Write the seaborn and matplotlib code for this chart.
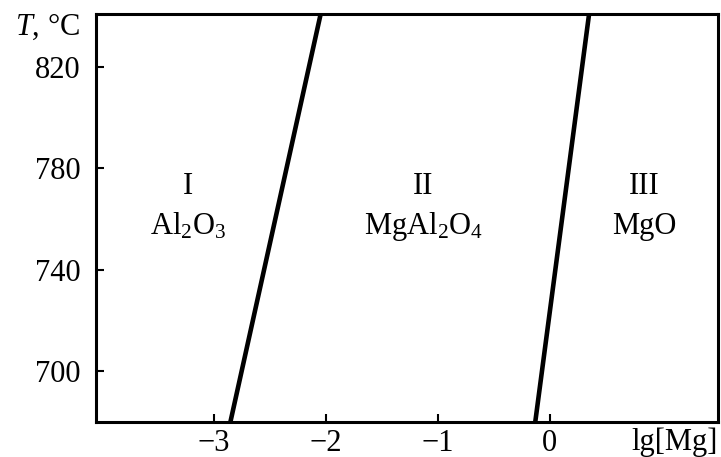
"""Phase diagram of Al2O3 / MgAl2O4 / MgO stability fields."""
import matplotlib
matplotlib.use("Agg")
import matplotlib.pyplot as plt
import seaborn as sns
import pandas as pd

# boundary lines: lg[Mg] at the bottom and top of the temperature range
boundary_T = [680, 841]
al2o3_spinel_lg = [-2.85, -2.045]
spinel_mgo_lg = [-0.13, 0.35]

# field labels
field_names = ["I", "II", "III"]
field_phases = ["Al$_2$O$_3$", "MgAl$_2$O$_4$", "MgO"]
field_lg = [-3.23, -1.13, 0.84]
name_T = 773
phase_T = 757

x_ticks = [-3, -2, -1, 0]
y_ticks = [700, 740, 780, 820]

FS = 22

sns.set_theme(style="white")
plt.rcParams.update({
    "font.family": ["Liberation Serif", "DejaVu Serif"],
    "mathtext.fontset": "custom",
    "mathtext.rm": "Liberation Serif",
    "mathtext.it": "Liberation Serif:italic",
    "font.size": FS,
    "text.color": "black",
    "axes.labelcolor": "black",
    "axes.edgecolor": "black",
    "axes.linewidth": 2.2,
})

lines = pd.DataFrame({
    "T": boundary_T * 2,
    "lg": al2o3_spinel_lg + spinel_mgo_lg,
    "boundary": ["a"] * 2 + ["b"] * 2,
})

fig, ax = plt.subplots(figsize=(7.21, 4.57), dpi=100)
fig.subplots_adjust(left=0.1331, right=0.9958, bottom=0.0772, top=0.9694)

for name, grp in lines.groupby("boundary"):
    sns.lineplot(data=grp, x="lg", y="T", color="black", linewidth=3.3,
                 legend=False, ax=ax, sort=False)

for n, ph, x in zip(field_names, field_phases, field_lg):
    ax.text(x, name_T, n, ha="center", va="center", fontsize=FS)
    ax.text(x, phase_T, ph, ha="center", va="center", fontsize=FS)

ax.set_xlim(-4.05, 1.5)
ax.set_ylim(680, 841)
ax.set_xticks(x_ticks)
ax.set_yticks(y_ticks)
ax.tick_params(direction="in", length=6, width=1.5, color="black",
               labelsize=FS, labelcolor="black", bottom=True, left=True)
ax.tick_params(axis="y", pad=11)
ax.tick_params(axis="x", pad=5)

ax.set_xlabel("lg[Mg]", fontsize=FS, ha="right", va="center")
ax.xaxis.set_label_coords(1.0, -0.05)
ax.set_ylabel("$T$, °C", fontsize=FS, rotation=0, ha="right", va="center")
ax.yaxis.set_label_coords(-0.0257, 0.968)

for s in ax.spines.values():
    s.set_color("black")
    s.set_linewidth(2.2)

fig.savefig("out.png", dpi=100)
